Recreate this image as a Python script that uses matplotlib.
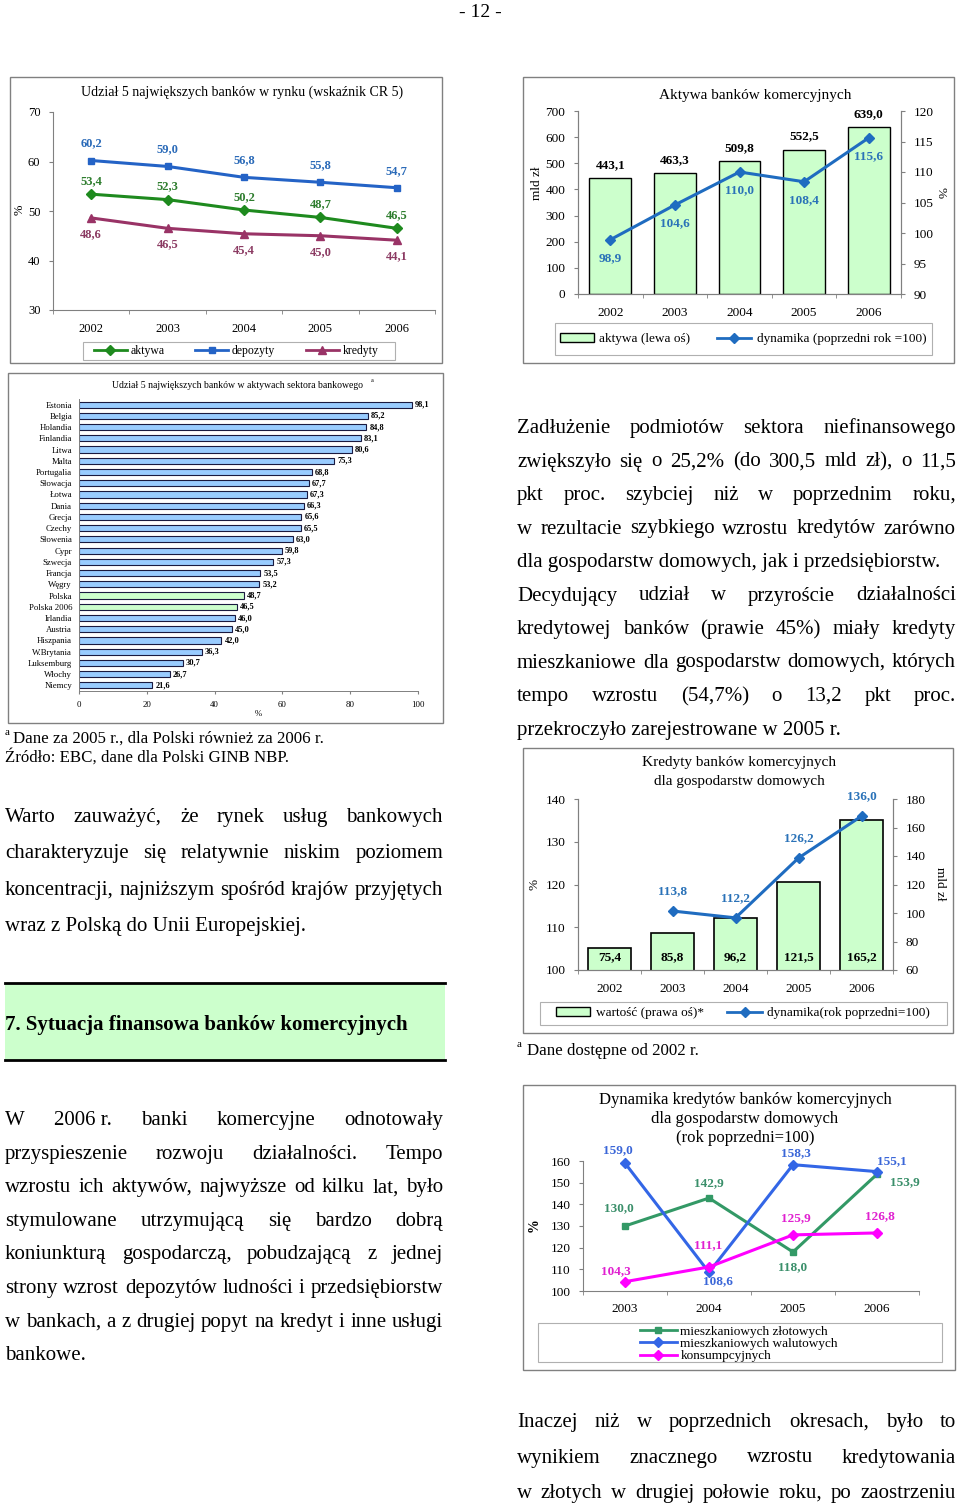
import matplotlib
matplotlib.use('Agg')
import matplotlib.pyplot as plt
from matplotlib.patches import Rectangle, Patch
from matplotlib.lines import Line2D
import numpy as np

plt.rcParams['font.family'] = ['Liberation Serif', 'DejaVu Serif']

W, H = 960, 1512

# --- data -------------------------------------------------------------
cr5_years = ['2002', '2003', '2004', '2005', '2006']
cr5_aktywa = [53.4, 52.3, 50.2, 48.7, 46.5]
cr5_depozyty = [60.2, 59.0, 56.8, 55.8, 54.7]
cr5_kredyty = [48.6, 46.5, 45.4, 45.0, 44.1]

assets_years = ['2002', '2003', '2004', '2005', '2006']
assets_value = [443.1, 463.3, 509.8, 552.5, 639.0]
assets_dyn = [98.9, 104.6, 110.0, 108.4, 115.6]

eu_countries = ['Estonia', 'Belgia', 'Holandia', 'Finlandia', 'Litwa', 'Malta',
                'Portugalia', 'Słowacja', 'Łotwa', 'Dania', 'Grecja', 'Czechy',
                'Słowenia', 'Cypr', 'Szwecja', 'Francja', 'Węgry', 'Polska',
                'Polska 2006', 'Irlandia', 'Austria', 'Hiszpania', 'W.Brytania',
                'Luksemburg', 'Włochy', 'Niemcy']
eu_share = [98.1, 85.2, 84.8, 83.1, 80.6, 75.3, 68.8, 67.7, 67.3, 66.3, 65.6, 65.5,
            63.0, 59.8, 57.3, 53.5, 53.2, 48.7, 46.5, 46.0, 45.0, 42.0, 36.3,
            30.7, 26.7, 21.6]

hh_years = ['2002', '2003', '2004', '2005', '2006']
hh_value = [75.4, 85.8, 96.2, 121.5, 165.2]
hh_dyn = [np.nan, 113.8, 112.2, 126.2, 136.0]

dyn_years = ['2003', '2004', '2005', '2006']
dyn_mort_pln = [130.0, 142.9, 118.0, 153.9]
dyn_mort_fx = [159.0, 108.6, 158.3, 155.1]
dyn_consumer = [104.3, 111.1, 125.9, 126.8]

para_top_left = ["Warto zauważyć, że rynek usług bankowych",
                 "charakteryzuje się relatywnie niskim poziomem",
                 "koncentracji, najniższym spośród krajów przyjętych",
                 "wraz z Polską do Unii Europejskiej."]
para_right = ["Zadłużenie podmiotów sektora niefinansowego",
              "zwiększyło się o 25,2% (do 300,5 mld zł), o 11,5",
              "pkt proc. szybciej niż w poprzednim roku,",
              "w rezultacie szybkiego wzrostu kredytów zarówno",
              "dla gospodarstw domowych, jak i przedsiębiorstw.",
              "Decydujący udział w przyroście działalności",
              "kredytowej banków (prawie 45%) miały kredyty",
              "mieszkaniowe dla gospodarstw domowych, których",
              "tempo wzrostu (54,7%) o 13,2 pkt proc.",
              "przekroczyło zarejestrowane w 2005 r."]
para_right_last = [4, 9]
para_bottom_left = ["W 2006\u00a0r. banki komercyjne odnotowały",
                    "przyspieszenie rozwoju działalności. Tempo",
                    "wzrostu ich aktywów, najwyższe od kilku lat, było",
                    "stymulowane utrzymującą się bardzo dobrą",
                    "koniunkturą gospodarczą, pobudzającą z jednej",
                    "strony wzrost depozytów ludności i przedsiębiorstw",
                    "w bankach, a z drugiej popyt na kredyt i inne usługi",
                    "bankowe."]
para_bottom_right = ["Inaczej niż w poprzednich okresach, było to",
                     "wynikiem znacznego wzrostu kredytowania",
                     "w złotych w drugiej połowie roku, po zaostrzeniu"]

GREEN_FILL = '#ccffcc'
BLUE_LINE = '#1f6cc0'
GRAY = '#808080'
BODY = 15

fig = plt.figure(figsize=(W / 100, H / 100), dpi=100)
fig.patch.set_facecolor('white')
renderer = fig.canvas.get_renderer()


def px_axes(x0, y0, x1, y1):
    return fig.add_axes([x0 / W, 1 - y1 / H, (x1 - x0) / W, (y1 - y0) / H])


def px_text(x, y, s, **kw):
    return fig.text(x / W, 1 - y / H, s, **kw)


def px_box(x0, y0, x1, y1, **kw):
    r = Rectangle((x0 / W, 1 - y1 / H), (x1 - x0) / W, (y1 - y0) / H,
                  transform=fig.transFigure, **kw)
    fig.add_artist(r)
    return r


def fmt(v):
    return f"{v:.1f}".replace('.', ',')


def paragraph(lines, x0, x1, y0, step, size, last_lines=None):
    # justified block: every line except the paragraph ends is spread to x1
    if last_lines is None:
        last_lines = [len(lines) - 1]
    for i, line in enumerate(lines):
        y = y0 + i * step
        if i in last_lines:
            px_text(x0, y, line, fontsize=size, va='baseline')
            continue
        words = line.split(' ')
        texts = [px_text(0, y, w, fontsize=size, va='baseline') for w in words]
        widths = [t.get_window_extent(renderer).width for t in texts]
        gap = (x1 - x0 - sum(widths)) / (len(words) - 1)
        if gap < 3:
            # line too long for the column at this size: shrink it a little
            scale = (x1 - x0 - 3 * (len(words) - 1)) / sum(widths)
            for t in texts:
                t.set_fontsize(size * scale)
            widths = [t.get_window_extent(renderer).width for t in texts]
            gap = (x1 - x0 - sum(widths)) / (len(words) - 1)
        x = x0
        for t, w in zip(texts, widths):
            t.set_x(x / W)
            x += w + gap


def style_cat_axis(ax, n):
    ax.set_xlim(-0.5, n - 0.5)
    ax.set_xticks(np.arange(n))
    ax.set_xticks(np.arange(-0.5, n, 1), minor=True)
    ax.tick_params(axis='x', which='major', length=0, pad=9)
    ax.tick_params(axis='x', which='minor', length=3, direction='out', color=GRAY)
    for s in ax.spines.values():
        s.set_color(GRAY)
        s.set_linewidth(0.8)


def frameless_legend(ax, handles, labels, x, y, **kw):
    leg = ax.legend(handles, labels, loc='center', bbox_to_anchor=(x / W, 1 - y / H),
                    bbox_transform=fig.transFigure, frameon=False, borderpad=0, **kw)
    return leg


# page number
px_text(480, 17, '- 12 -', fontsize=14, ha='center', va='baseline')

# --- chart 1: CR5 -------------------------------------------------------
px_box(10, 77, 442, 363, fill=False, edgecolor=GRAY, lw=1)
ax1 = px_axes(53, 112, 435, 310)
x = np.arange(len(cr5_years))
c_akt, c_dep, c_kre = '#1e8a1e', '#2463c6', '#993366'
ax1.plot(x, cr5_aktywa, color=c_akt, marker='D', ms=5, lw=2.2, clip_on=False)
ax1.plot(x, cr5_depozyty, color=c_dep, marker='s', ms=5, lw=2.2, clip_on=False)
ax1.plot(x, cr5_kredyty, color=c_kre, marker='^', ms=6, lw=2.2, clip_on=False)
for i in range(len(x)):
    ax1.annotate(fmt(cr5_depozyty[i]), (x[i], cr5_depozyty[i]), xytext=(0, 17),
                 textcoords='offset pixels', ha='center', va='center',
                 fontsize=9, fontweight='bold', color='#2a6ab8')
    ax1.annotate(fmt(cr5_aktywa[i]), (x[i], cr5_aktywa[i]), xytext=(0, 13),
                 textcoords='offset pixels', ha='center', va='center',
                 fontsize=9, fontweight='bold', color='#2e7d2e')
    ax1.annotate(fmt(cr5_kredyty[i]), (x[i], cr5_kredyty[i]), xytext=(0, -16),
                 textcoords='offset pixels', ha='center', va='center',
                 fontsize=9, fontweight='bold', color='#8b3a62')
ax1.set_ylim(30, 70)
ax1.set_yticks(range(30, 71, 10))
ax1.tick_params(axis='y', length=3, direction='out', color=GRAY, labelsize=9, pad=6)
style_cat_axis(ax1, len(x))
ax1.set_xticklabels(cr5_years, fontsize=9)
ax1.spines['top'].set_visible(False)
ax1.spines['right'].set_visible(False)
px_text(20, 210, '%', fontsize=9, rotation=90, ha='center', va='center')
px_text(242, 92, 'Udział 5 największych banków w rynku (wskaźnik CR 5)',
        fontsize=10, ha='center', va='center')
px_box(83, 342, 395, 360, fill=False, edgecolor='#b0b0b0', lw=0.8)
frameless_legend(ax1,
                 [Line2D([], [], color=c_akt, marker='D', ms=5, lw=2),
                  Line2D([], [], color=c_dep, marker='s', ms=5, lw=2),
                  Line2D([], [], color=c_kre, marker='^', ms=6, lw=2)],
                 ['aktywa', 'depozyty', 'kredyty'], 236, 351,
                 ncol=3, fontsize=8.5, handlelength=2.8, columnspacing=2.6, handletextpad=0.3)

# --- chart 2: assets ---------------------------------------------------
px_box(523, 77, 954, 363, fill=False, edgecolor=GRAY, lw=1)
ax2 = px_axes(578, 111, 901, 294)
x = np.arange(len(assets_years))
ax2.bar(x, assets_value, width=0.65, color=GREEN_FILL, edgecolor='black', lw=1)
for i in range(len(x)):
    ax2.annotate(fmt(assets_value[i]), (x[i], assets_value[i]), xytext=(0, 13),
                 textcoords='offset pixels', ha='center', va='center',
                 fontsize=9.5, fontweight='bold', color='black')
ax2.set_ylim(0, 700)
ax2.set_yticks(range(0, 701, 100))
style_cat_axis(ax2, len(x))
ax2.set_xticklabels(assets_years, fontsize=9.5)
ax2.spines['top'].set_visible(False)
ax2r = ax2.twinx()
ax2.tick_params(axis='y', length=3, direction='out', color=GRAY, labelsize=9.5, pad=6)
ax2r.plot(x, assets_dyn, color=BLUE_LINE, marker='D', ms=5, lw=2.2)
for i in range(len(x)):
    ax2r.annotate(fmt(assets_dyn[i]), (x[i], assets_dyn[i]), xytext=(0, -18),
                  textcoords='offset pixels', ha='center', va='center',
                  fontsize=9.5, fontweight='bold', color='#2a72b8')
ax2r.set_ylim(90, 120)
ax2r.set_yticks(range(90, 121, 5))
ax2r.tick_params(axis='y', length=3, direction='out', color=GRAY, labelsize=9.5, pad=6)
for s in ax2r.spines.values():
    s.set_color(GRAY)
    s.set_linewidth(0.8)
ax2r.spines['top'].set_visible(False)
px_text(755, 95, 'Aktywa banków komercyjnych', fontsize=11, ha='center', va='center')
px_text(537, 183, 'mld zł', fontsize=9.5, rotation=90, ha='center', va='center')
px_text(940, 193, '%', fontsize=9.5, rotation=270, ha='center', va='center')
px_box(555, 323, 932, 355, fill=False, edgecolor='#b0b0b0', lw=0.8)
frameless_legend(ax2r,
                 [Patch(facecolor=GREEN_FILL, edgecolor='black'),
                  Line2D([], [], color=BLUE_LINE, marker='D', ms=5, lw=2)],
                 ['aktywa (lewa oś)', 'dynamika (poprzedni rok =100)'], 743, 339,
                 ncol=2, fontsize=9.5, handlelength=2.6, columnspacing=2.0, handletextpad=0.4)

# --- chart 3: EU comparison -------------------------------------------
px_box(8, 373, 443, 723, fill=False, edgecolor=GRAY, lw=1)
ax3 = px_axes(79, 399, 418, 691)
y = np.arange(len(eu_countries))
bar_colors = [GREEN_FILL if c.startswith('Polska') else '#99ccff' for c in eu_countries]
ax3.barh(y, eu_share, height=0.55, color=bar_colors, edgecolor='#1a1a40', lw=0.8)
for i, v in enumerate(eu_share):
    ax3.annotate(fmt(v), (v, y[i]), xytext=(3, 0), textcoords='offset pixels',
                 ha='left', va='center', fontsize=6, fontweight='bold')
ax3.set_ylim(len(eu_countries) - 0.5, -0.5)
ax3.set_xlim(0, 100)
ax3.set_xticks(range(0, 101, 20))
ax3.set_yticks(y)
ax3.set_yticklabels(eu_countries, fontsize=6.3)
ax3.tick_params(axis='y', length=0, pad=5)
ax3.tick_params(axis='x', length=2, direction='out', color=GRAY, labelsize=6.3, pad=5)
for s in ax3.spines.values():
    s.set_color(GRAY)
    s.set_linewidth(0.7)
ax3.spines['top'].set_visible(False)
ax3.spines['right'].set_visible(False)
px_text(238, 385, 'Udział 5 największych banków w aktywach sektora bankowego',
        fontsize=7, ha='center', va='center')
px_text(372, 380, 'a', fontsize=4.5, ha='center', va='center')
px_text(258, 714, '%', fontsize=6.3, ha='center', va='center')
px_text(5, 735, 'a', fontsize=8, va='baseline')
px_text(13, 743, 'Dane za 2005 r., dla Polski również za 2006 r.', fontsize=12.2, va='baseline')
px_text(5, 762, 'Źródło: EBC, dane dla Polski GINB NBP.', fontsize=12.2, va='baseline')

# --- text blocks -------------------------------------------------------
paragraph(para_top_left, 5, 443, 822, 36.3, BODY)
paragraph(para_right, 517, 956, 433, 33.5, BODY, last_lines=para_right_last)
paragraph(para_bottom_left, 5, 443, 1125, 33.6, BODY)
paragraph(para_bottom_right, 517, 956, 1427, 35.5, BODY, last_lines=[])

# section heading
px_box(5, 983, 445, 1060, facecolor=GREEN_FILL, edgecolor='none')
fig.add_artist(Line2D([5 / W, 445 / W], [1 - 983 / H, 1 - 983 / H],
                      transform=fig.transFigure, color='black', lw=2))
fig.add_artist(Line2D([5 / W, 445 / W], [1 - 1060 / H, 1 - 1060 / H],
                      transform=fig.transFigure, color='black', lw=2))
px_text(5, 1030, '7. Sytuacja finansowa banków komercyjnych', fontsize=15,
        fontweight='bold', va='baseline')

# --- chart 4: household credit ----------------------------------------
px_box(523, 748, 953, 1033, fill=False, edgecolor=GRAY, lw=1)
ax4 = px_axes(578, 799, 893, 970)
x = np.arange(len(hh_years))
ax4.bar(x, hh_value, width=0.68, color=GREEN_FILL, edgecolor='black', lw=1.2)
for i in range(len(x)):
    ax4.annotate(fmt(hh_value[i]), (x[i], 60), xytext=(0, 13),
                 textcoords='offset pixels', ha='center', va='center',
                 fontsize=9.5, fontweight='bold', color='black')
ax4.set_ylim(60, 180)
ax4.set_yticks(range(60, 181, 20))
style_cat_axis(ax4, len(x))
ax4.set_xticklabels(hh_years, fontsize=9.5)
ax4.spines['top'].set_visible(False)
ax4l = ax4.twinx()
# twinx puts the host ticks on the left, so swap sides afterwards
ax4.yaxis.tick_right()
ax4l.yaxis.tick_left()
ax4.tick_params(axis='y', length=3, direction='out', color=GRAY, labelsize=9.5, pad=6)
ax4l.plot(x, hh_dyn, color=BLUE_LINE, marker='D', ms=5, lw=2.2)
for i in range(len(x)):
    if not np.isnan(hh_dyn[i]):
        ax4l.annotate(fmt(hh_dyn[i]), (x[i], hh_dyn[i]), xytext=(0, 20),
                      textcoords='offset pixels', ha='center', va='center',
                      fontsize=9.5, fontweight='bold', color='#2a72b8')
ax4l.set_ylim(100, 140)
ax4l.set_yticks(range(100, 141, 10))
ax4l.tick_params(axis='y', length=3, direction='out', color=GRAY, labelsize=9.5, pad=6)
for s in ax4l.spines.values():
    s.set_color(GRAY)
    s.set_linewidth(0.8)
ax4l.spines['top'].set_visible(False)
px_text(739, 772, 'Kredyty banków komercyjnych\ndla gospodarstw domowych',
        fontsize=11, ha='center', va='center', linespacing=1.55)
px_text(535, 884, '%', fontsize=9.5, rotation=90, ha='center', va='center')
px_text(940, 884, 'mld zł', fontsize=9.5, rotation=270, ha='center', va='center')
px_box(540, 1002, 947, 1025, fill=False, edgecolor='#b0b0b0', lw=0.8)
frameless_legend(ax4l,
                 [Patch(facecolor=GREEN_FILL, edgecolor='black'),
                  Line2D([], [], color=BLUE_LINE, marker='D', ms=5, lw=2)],
                 ['wartość (prawa oś)*', 'dynamika(rok poprzedni=100)'], 743, 1013,
                 ncol=2, fontsize=9.5, handlelength=2.6, columnspacing=1.8, handletextpad=0.4)
px_text(517, 1047, 'a', fontsize=8, va='baseline')
px_text(527, 1055, 'Dane dostępne od 2002 r.', fontsize=12.2, va='baseline')

# --- chart 5: credit dynamics -----------------------------------------
px_box(523, 1085, 955, 1370, fill=False, edgecolor=GRAY, lw=1)
ax5 = px_axes(583, 1161, 919, 1291)
x = np.arange(len(dyn_years))
c_pln, c_fx, c_con = '#339966', '#3366e6', '#ff00ff'
ax5.plot(x, dyn_mort_pln, color=c_pln, marker='s', ms=5, lw=2.2, clip_on=False)
ax5.plot(x, dyn_mort_fx, color=c_fx, marker='D', ms=5, lw=2.2, clip_on=False)
ax5.plot(x, dyn_consumer, color=c_con, marker='D', ms=5, lw=2.2, clip_on=False)
pln_off = [(-6, 18), (0, 15), (0, -15), (28, -8)]
fx_off = [(-7, 13), (9, -9), (3, 12), (15, 10)]
con_off = [(-9, 11), (-1, 22), (3, 17), (3, 17)]
for series, offs, col in [(dyn_mort_pln, pln_off, '#3a8f6a'),
                          (dyn_mort_fx, fx_off, '#3a66d8'),
                          (dyn_consumer, con_off, '#e020d0')]:
    for i in range(len(x)):
        ax5.annotate(fmt(series[i]), (x[i], series[i]), xytext=offs[i],
                     textcoords='offset pixels', ha='center', va='center',
                     fontsize=9.5, fontweight='bold', color=col)
ax5.set_ylim(100, 160)
ax5.set_yticks(range(100, 161, 10))
ax5.tick_params(axis='y', length=3, direction='out', color=GRAY, labelsize=9.5, pad=6)
style_cat_axis(ax5, len(x))
ax5.set_xticklabels(dyn_years, fontsize=9.5)
ax5.spines['top'].set_visible(False)
ax5.spines['right'].set_visible(False)
px_text(745, 1119, 'Dynamika kredytów banków komercyjnych\ndla gospodarstw domowych\n(rok poprzedni=100)',
        fontsize=12, ha='center', va='center', linespacing=1.27)
px_text(534, 1225, '%', fontsize=10, fontweight='bold', rotation=90, ha='center', va='center')
px_box(538, 1323, 942, 1362, fill=False, edgecolor='#b0b0b0', lw=0.8)
leg5 = ax5.legend([Line2D([], [], color=c_pln, marker='s', ms=5, lw=2),
                   Line2D([], [], color=c_fx, marker='D', ms=5, lw=2),
                   Line2D([], [], color=c_con, marker='D', ms=5, lw=2)],
                  ['mieszkaniowych złotowych', 'mieszkaniowych walutowych', 'konsumpcyjnych'],
                  loc='upper left', bbox_to_anchor=(633 / W, 1 - 1319 / H),
                  bbox_transform=fig.transFigure, frameon=False, borderpad=0,
                  fontsize=9.5, labelspacing=0.0, handlelength=2.8, handletextpad=0.3)

fig.savefig('out.png', dpi=100)
